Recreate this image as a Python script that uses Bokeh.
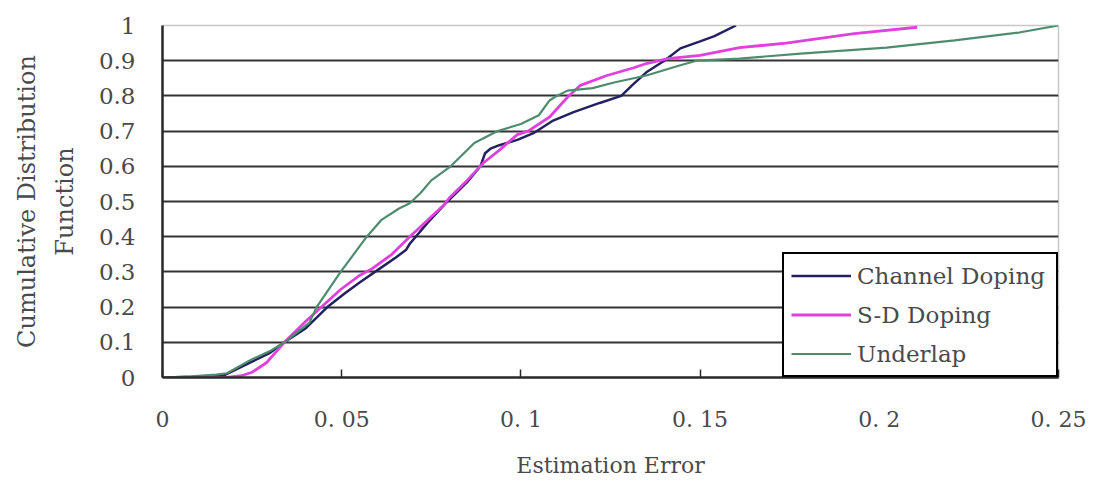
from bokeh.plotting import figure
from bokeh.models import Range1d, FixedTicker, Legend, LegendItem
from bokeh.embed import file_html
from bokeh.resources import INLINE

# ---- data ----
cd_x = [0, 0.010, 0.017, 0.020, 0.025, 0.030, 0.034, 0.040, 0.046, 0.051, 0.055, 0.060,
        0.065, 0.068, 0.069, 0.074, 0.0795, 0.085, 0.0887, 0.090, 0.0915, 0.094, 0.099,
        0.1035, 0.109, 0.1147, 0.122, 0.128, 0.131, 0.135, 0.140, 0.1445, 0.150, 0.154, 0.160]
cd_y = [0, 0.002, 0.005, 0.02, 0.045, 0.07, 0.10, 0.14, 0.20, 0.24, 0.27, 0.305,
        0.34, 0.363, 0.38, 0.44, 0.50, 0.555, 0.60, 0.637, 0.65, 0.66, 0.675,
        0.694, 0.73, 0.754, 0.78, 0.80, 0.83, 0.867, 0.90, 0.935, 0.955, 0.97, 1.0]

sd_x = [0, 0.018, 0.022, 0.025, 0.029, 0.034, 0.040, 0.0497, 0.055, 0.0586, 0.064, 0.069,
        0.0785, 0.080, 0.085, 0.0896, 0.094, 0.099, 0.102, 0.108, 0.113, 0.1166, 0.124,
        0.1315, 0.135, 0.141, 0.150, 0.161, 0.174, 0.193, 0.2106]
sd_y = [0, 0.0, 0.005, 0.015, 0.042, 0.10, 0.16, 0.25, 0.29, 0.31, 0.35, 0.40,
        0.49, 0.51, 0.56, 0.61, 0.646, 0.69, 0.70, 0.74, 0.796, 0.83, 0.858,
        0.88, 0.892, 0.906, 0.915, 0.937, 0.95, 0.977, 0.995]

un_x = [0, 0.008, 0.015, 0.018, 0.0246, 0.030, 0.034, 0.041, 0.043, 0.0497, 0.057, 0.061,
        0.066, 0.069, 0.072, 0.075, 0.0804, 0.087, 0.0935, 0.100, 0.105, 0.108, 0.110,
        0.113, 0.120, 0.126, 0.135, 0.1445, 0.149, 0.161, 0.178, 0.202, 0.221, 0.239, 0.25]
un_y = [0, 0.003, 0.008, 0.012, 0.05, 0.075, 0.10, 0.156, 0.20, 0.30, 0.40, 0.447,
        0.48, 0.495, 0.524, 0.56, 0.60, 0.666, 0.70, 0.72, 0.745, 0.787, 0.80,
        0.815, 0.822, 0.838, 0.858, 0.887, 0.90, 0.906, 0.92, 0.937, 0.958, 0.98, 1.0]

series_names = ["Channel Doping", "S-D Doping", "Underlap"]
x_ticks = [0, 0.05, 0.1, 0.15, 0.2, 0.25]
x_tick_labels = ["0", "0. 05", "0. 1", "0. 15", "0. 2", "0. 25"]
y_ticks = [0, 0.1, 0.2, 0.3, 0.4, 0.5, 0.6, 0.7, 0.8, 0.9, 1]
y_tick_labels = ["0", "0.1", "0.2", "0.3", "0.4", "0.5", "0.6", "0.7", "0.8", "0.9", "1"]

FONT = "DejaVu Serif"
TXT = "#4a4a4a"

p = figure(width=1100, height=480, output_backend="svg", toolbar_location=None,
           x_range=Range1d(0, 0.25), y_range=Range1d(0, 1),
           min_border_left=162, min_border_right=42, min_border_top=25, min_border_bottom=102)
p.background_fill_color = "white"
p.border_fill_color = "white"
p.outline_line_color = "#c8c8c8"
p.outline_line_width = 1.5

r1 = p.line(cd_x, cd_y, line_color="#23215f", line_width=2.5)
r2 = p.line(sd_x, sd_y, line_color="#e040dc", line_width=2.8)
r3 = p.line(un_x, un_y, line_color="#4e8c6e", line_width=2.2)

# axes
for ax in (p.xaxis[0], p.yaxis[0]):
    ax.axis_line_color = "#2a2a2a"
    ax.axis_line_width = 2.5
    ax.major_label_text_font = FONT
    ax.major_label_text_font_size = "23px"
    ax.major_label_text_color = TXT
    ax.axis_label_text_font = FONT
    ax.axis_label_text_font_size = "22px"
    ax.axis_label_text_font_style = "normal"
    ax.axis_label_text_color = TXT
    ax.minor_tick_line_color = None

p.xaxis.ticker = FixedTicker(ticks=x_ticks)
p.xaxis.major_label_overrides = dict(zip(x_ticks, x_tick_labels))
p.xaxis.major_label_text_font_size = "22px"
p.xaxis.major_tick_in = 8
p.xaxis.major_tick_out = 0
p.xaxis.major_tick_line_color = "#2a2a2a"
p.xaxis.major_tick_line_width = 1.5
p.xaxis.major_label_standoff = 29
p.xaxis.axis_label = "Estimation Error"
p.xaxis.axis_label_standoff = 18

p.yaxis.ticker = FixedTicker(ticks=y_ticks)
p.yaxis.major_label_overrides = dict(zip(y_ticks, y_tick_labels))
p.yaxis.major_tick_in = 0
p.yaxis.major_tick_out = 0
p.yaxis.major_label_standoff = 27
p.yaxis.axis_label = "Cumulative Distribution\nFunction"
p.yaxis.axis_label_text_font_size = "24px"
p.yaxis.axis_label_standoff = 17
p.yaxis.axis_label_text_line_height = 1.35

# grid
p.xgrid.visible = False
p.ygrid.ticker = FixedTicker(ticks=y_ticks[1:-1])
p.ygrid.grid_line_color = "#333333"
p.ygrid.grid_line_width = 2

legend = Legend(items=[LegendItem(label=series_names[0], renderers=[r1]),
                       LegendItem(label=series_names[1], renderers=[r2]),
                       LegendItem(label=series_names[2], renderers=[r3])],
                location="bottom_right")
legend.margin = 0
legend.border_line_color = "black"
legend.border_line_width = 2
legend.border_line_alpha = 1
legend.background_fill_color = "white"
legend.background_fill_alpha = 1
legend.padding = 7
legend.spacing = 10
legend.glyph_width = 60
legend.glyph_height = 29
legend.label_height = 29
legend.label_width = 192
legend.label_standoff = 6
legend.label_text_font = FONT
legend.label_text_font_size = "23px"
legend.label_text_color = TXT
p.add_layout(legend)

open("out.html", "w").write(file_html(p, INLINE))
